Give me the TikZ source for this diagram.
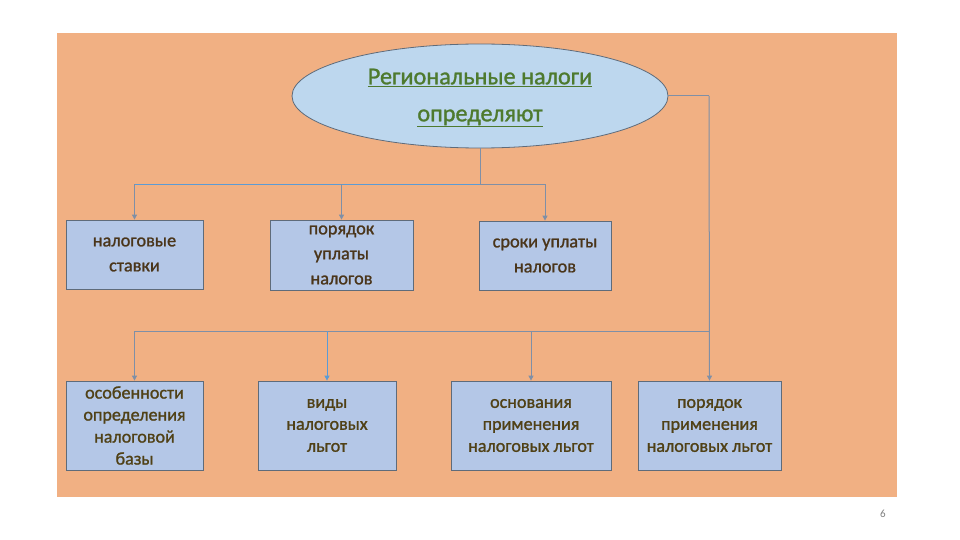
\documentclass[tikz,border=0pt]{standalone}
\usepackage{fontspec}
\setmainfont{Carlito}
\newfontfamily\heavyfont[FakeBold=1.2]{Carlito}
\usepackage{xcolor}
\usetikzlibrary{arrows.meta,shapes.geometric}
\definecolor{bgorange}{HTML}{F1B083}
\definecolor{ellfill}{HTML}{BDD7EE}
\definecolor{boxfill}{HTML}{B4C7E7}
\definecolor{edgegray}{HTML}{5F6B7A}
\definecolor{conblue}{HTML}{5B9BD5}
\definecolor{congray}{HTML}{7F8FA6}
\definecolor{titlegreen}{HTML}{4E7A2E}
\definecolor{txtbrown}{HTML}{4A351A}
\definecolor{txtolive}{HTML}{504116}
\tikzset{
  box/.style={draw=edgegray, line width=0.8pt, fill=boxfill, inner sep=0pt, align=center, font=\heavyfont\fontsize{18.3}{25}\selectfont, text=txtbrown},
  lowbox/.style={box, font=\heavyfont\fontsize{18.1}{22}\selectfont, text=txtolive},
  con/.style={draw=congray, line width=1pt},
  arr/.style={con, -{Triangle[length=5pt,width=5pt]}},
}
\begin{document}
\begin{tikzpicture}[x=1pt,y=-1pt]
\useasboundingbox (0,0) rectangle (960,540);
\fill[white] (0,0) rectangle (960,540);
\fill[bgorange] (57,33) rectangle (897,497);
\node[draw=edgegray, line width=0.8pt, fill=ellfill, ellipse, minimum width=376pt, minimum height=104pt, inner sep=0pt] (ell) at (480,96) {};
\node[text=titlegreen, font=\heavyfont\fontsize{24.2}{37}\selectfont, align=center] (title) at (480,98) {\underline{Региональные налоги}\\\underline{определяют}};
\node[box, minimum width=137pt, minimum height=69pt] (b1) at (134.5,254.5) {налоговые\\ставки};
\node[box, minimum width=143pt, minimum height=70pt] (b2) at (341.5,255) {порядок\\уплаты\\налогов};
\node[box, minimum width=132pt, minimum height=69pt] (b3) at (545,255.5) {сроки уплаты\\налогов};
\node[lowbox, minimum width=137pt, minimum height=89pt] (b4) at (134.5,425.5) {особенности\\определения\\налоговой\\базы};
\node[lowbox, minimum width=138pt, minimum height=89pt] (b5) at (327,425.5) {виды\\налоговых\\льгот};
\node[lowbox, minimum width=160pt, minimum height=89pt] (b6) at (531,425.5) {основания\\применения\\налоговых льгот};
\node[lowbox, minimum width=143pt, minimum height=89pt] (b7) at (709.5,425.5) {порядок\\применения\\налоговых льгот};
\coordinate (h1) at (480,184);
\coordinate (r1) at (709,96);
\coordinate (r2) at (709,331);
\draw[con] (ell.south) -- (h1);
\draw[con, draw=conblue] (h1) -- (134.5,184);
\draw[con] (h1) -- (545,184);
\draw[arr] (134.5,184) -- (b1.north);
\draw[arr] (341.5,184) -- (b2.north);
\draw[arr] (545,184) -- (b3.north);
\draw[con] (ell.east) -- (r1);
\draw[arr] (r1) -- (b7.north);
\draw[con] (r2) -- (134.5,331);
\draw[arr] (134.5,331) -- (b4.north);
\draw[arr, draw=conblue] (327,331) -- (b5.north);
\draw[arr] (531,331) -- (b6.north);
\node[text=gray, font=\fontsize{11}{12}\selectfont] (pg) at (883,514) {6};
\end{tikzpicture}
\end{document}
